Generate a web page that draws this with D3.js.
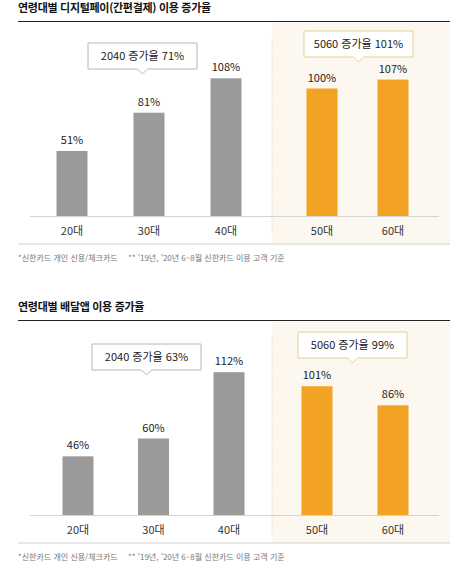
<!DOCTYPE html>
<html lang="ko">
    <head>
        <meta charset="utf-8">
        <title>연령대별 이용 증가율</title>
        <script type="text/javascript" src="https://d3js.org/d3.v7.min.js"></script>
        <style type="text/css">
            body { margin: 0; background: #fff; }
            svg text { font-family: "Noto Sans CJK KR", "Noto Sans", sans-serif; }
        </style>
    </head>
    <body>
        <script type="text/javascript">

        const width = 470;
        const height = 563;

        //Data
        const agesYoung = ["20대", "30대", "40대"];
        const agesOld = ["50대", "60대"];
        const payValues = [51, 81, 108, 100, 107];
        const deliveryValues = [46, 60, 112, 101, 86];
        const chartTitles = ["연령대별 디지털페이(간편결제) 이용 증가율", "연령대별 배달앱 이용 증가율"];
        const youngCallouts = ["2040 증가율 71%", "2040 증가율 63%"];
        const oldCallouts = ["5060 증가율 101%", "5060 증가율 99%"];
        const noteCard = "*신한카드 개인 신용/체크카드";
        const notePeriods = ["** '19년, '20년 6~8월 신한카드 이용 고객 기준", "** '19년, '20년 6~8월 신한카드 이용 고객 기준"];

        const grey = "#9a9a9a";
        const orange = "#f2a324";

        const svg = d3.select("body")
                    .append("svg")
                    .attr("width", width)
                    .attr("height", height);

        // layout for each panel (only positions, values come from the arrays above)
        const panels = [
            { top: 0, values: payValues, young: [72, 226], old: [322, 393],
              boxYoung: [88, 43], boxOld: [304, 31] },
            { top: 299, values: deliveryValues, young: [78, 229], old: [317, 393],
              boxYoung: [92, 45], boxOld: [298, 33] }
        ];

        const yScale = d3.scaleLinear()
                        .domain([0, 120])
                        .range([216, 216 - 120 * 1.275]);

        const barW = 31;

        function callout(g, x, y, label, stroke) {
            const w = 109, h = 26, cx = x + w / 2;
            g.append("path")
                .attr("d", `M${x},${y}H${x + w}V${y + h}H${cx + 5}L${cx},${y + h + 5}L${cx - 5},${y + h}H${x}Z`)
                .attr("fill", "#fff")
                .attr("stroke", stroke)
                .attr("stroke-width", 1);
            g.append("text")
                .attr("x", cx)
                .attr("y", y + 17)
                .attr("text-anchor", "middle")
                .attr("font-size", 11)
                .attr("fill", "#222")
                .text(label);
        }

        panels.forEach((p, i) => {
            const g = svg.append("g").attr("transform", `translate(0,${p.top})`);

            const xYoung = d3.scalePoint().domain(agesYoung).range(p.young);
            const xOld = d3.scalePoint().domain(agesOld).range(p.old);
            const ages = agesYoung.concat(agesOld);
            const xPos = a => agesYoung.includes(a) ? xYoung(a) : xOld(a);
            const rows = ages.map((a, j) => ({ age: a, value: p.values[j], old: agesOld.includes(a) }));

            // shaded 50/60 area
            g.append("rect")
                .attr("x", 272).attr("y", 23)
                .attr("width", 178).attr("height", 221)
                .attr("fill", "#fcf7ef");

            g.append("line")
                .attr("x1", 272).attr("x2", 272)
                .attr("y1", 38).attr("y2", 236)
                .attr("stroke", "#d9c791")
                .attr("stroke-dasharray", "1,2");

            // title
            g.append("text")
                .attr("x", 18).attr("y", 12)
                .attr("font-size", 11)
                .attr("font-weight", "bold")
                .attr("letter-spacing", "-0.3")
                .attr("fill", "#111")
                .text(chartTitles[i]);

            g.append("line")
                .attr("x1", 18).attr("x2", 450)
                .attr("y1", 21.5).attr("y2", 21.5)
                .attr("stroke", "#222")
                .attr("stroke-width", 1.2);

            //Bars
            g.selectAll("rect.bar")
                .data(rows)
                .enter()
                .append("rect")
                .attr("class", "bar")
                .attr("x", d => xPos(d.age) - barW / 2)
                .attr("y", d => yScale(d.value))
                .attr("width", barW)
                .attr("height", d => yScale(0) - yScale(d.value))
                .attr("fill", d => d.old ? orange : grey);

            g.selectAll("text.val")
                .data(rows)
                .enter()
                .append("text")
                .attr("class", "val")
                .attr("x", d => xPos(d.age))
                .attr("y", d => yScale(d.value) - 7)
                .attr("text-anchor", "middle")
                .attr("font-size", 11)
                .attr("fill", "#222")
                .text(d => d.value + "%");

            // baseline and category labels
            g.append("line")
                .attr("x1", 30).attr("x2", 439)
                .attr("y1", yScale(0) + 0.5).attr("y2", yScale(0) + 0.5)
                .attr("stroke", "#d4d4d4");

            g.selectAll("text.cat")
                .data(rows)
                .enter()
                .append("text")
                .attr("class", "cat")
                .attr("x", d => xPos(d.age))
                .attr("y", 235)
                .attr("text-anchor", "middle")
                .attr("font-size", 11)
                .attr("fill", "#333")
                .text(d => d.age);

            g.append("line")
                .attr("x1", 18).attr("x2", 450)
                .attr("y1", 244).attr("y2", 244)
                .attr("stroke", "#d0d0d0");

            // callouts
            callout(g, p.boxYoung[0], p.boxYoung[1], youngCallouts[i], "#b8b8b8");
            callout(g, p.boxOld[0], p.boxOld[1], oldCallouts[i], "#e3cf94");

            // footnotes
            g.append("text")
                .attr("x", 18).attr("y", 261)
                .attr("font-size", 8)
                .attr("fill", "#777")
                .text(noteCard);
            g.append("text")
                .attr("x", 128).attr("y", 261)
                .attr("font-size", 8)
                .attr("fill", "#777")
                .text(notePeriods[i]);
        });
        </script>
    </body>
</html>
